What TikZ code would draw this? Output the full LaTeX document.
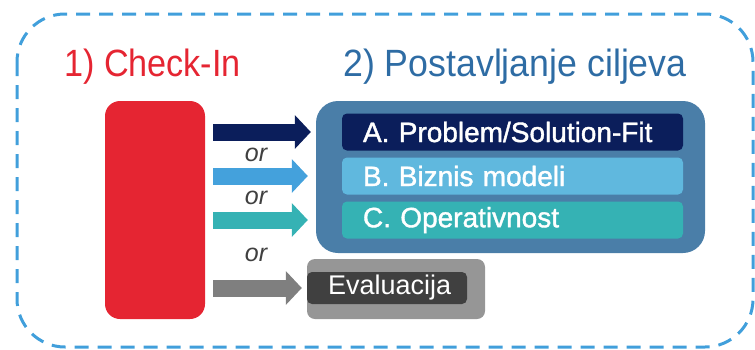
\documentclass[tikz,border=0pt]{standalone}
\usepackage{fontspec}
\setmainfont{Liberation Sans}
\newfontfamily\titlefont[FakeStretch=0.9]{Liberation Sans}
\newfontfamily\goalstitlefont[FakeStretch=0.94]{Liberation Sans}
\newfontfamily\goalfont[FakeBold=1.4]{Liberation Sans}
\usetikzlibrary{arrows.meta,positioning,calc}

\definecolor{frameblue}{HTML}{419FDB}
\definecolor{checkred}{HTML}{E52532}
\definecolor{titleblue}{HTML}{2E6CA4}
\definecolor{goalsblue}{HTML}{4A7EA8}
\definecolor{navyA}{HTML}{0B1E5B}
\definecolor{lightB}{HTML}{60B8DE}
\definecolor{tealC}{HTML}{35B2B4}
\definecolor{arrowB}{HTML}{44A1DC}
\definecolor{arrowgray}{HTML}{7F7F7F}
\definecolor{evalouter}{HTML}{969696}
\definecolor{evalinner}{HTML}{404040}
\definecolor{orgray}{HTML}{404040}

\begin{document}
\begin{tikzpicture}[x=1pt, y=-1pt,
  goal/.style={rectangle, rounded corners=5pt, minimum height=37pt, text width=299pt,
    inner xsep=21pt, inner ysep=0pt, align=left, text=white, font=\goalfont\fontsize{28}{30}\selectfont},
  bigarrow/.style={line width=17pt, -{Triangle[width=33pt,length=16pt]}},
  orlabel/.style={text=orgray, font=\itshape\fontsize{25}{27}\selectfont}]

\useasboundingbox (0,0) rectangle (755,349);

% --- Dashed frame ---
\draw[frameblue, line width=3pt, dash pattern=on 14pt off 9pt, rounded corners=48pt] (17,14) rectangle (753,347);

% --- Titles ---
\node (title_checkin) [anchor=base west, inner sep=0pt, text=checkred, font=\titlefont\fontsize{38}{40}\selectfont] at (64,76) {1) Check-In};
\node (title_goals) [anchor=base west, inner sep=0pt, text=titleblue, font=\goalstitlefont\fontsize{38}{40}\selectfont] at (343,76) {2) Postavljanje ciljeva};

% --- Check-In block ---
\node (checkin) [rectangle, fill=checkred, rounded corners=15pt, minimum width=100pt, minimum height=218pt] at (155,210) {};

% --- Goal setting ---
\node (goals) [rectangle, fill=goalsblue, rounded corners=22pt, minimum width=389pt, minimum height=152pt] at (510.5,177) {};
\node (probfit) [goal, fill=navyA] at (512.5,132) {\mbox{A. Problem/Solution-Fit}};
\node (bizmod) [goal, fill=lightB] at (512.5,176) {\mbox{B. Biznis modeli}};
\node (operat) [goal, fill=tealC] at (512.5,220) {\mbox{C. Operativnost}};

% --- Evaluation ---
\node (evalbox) [rectangle, fill=evalouter, rounded corners=8pt, minimum width=178pt, minimum height=60pt] at (396,289) {};
\node (evaluacija) [rectangle, fill=evalinner, rounded corners=5pt, minimum width=160pt, minimum height=32pt, text width=118pt,
  inner xsep=21pt, inner ysep=0pt, align=left, text=white, font=\fontsize{27}{29}\selectfont] at (387,288) {\mbox{Evaluacija}};

% --- Arrows ---
\draw[bigarrow, navyA] ($(checkin.east |- probfit.west)+(8,0)$) -- ($(goals.west |- probfit.west)+(-5,0)$);
\draw[bigarrow, arrowB] ($(checkin.east |- bizmod.west)+(8,0)$) -- ($(goals.west |- bizmod.west)+(-8,0)$);
\draw[bigarrow, tealC] ($(checkin.east |- operat.west)+(8,0)$) -- ($(goals.west |- operat.west)+(-8,0)$);
\draw[bigarrow, arrowgray] ($(checkin.east |- evaluacija.west)+(8,0)$) -- ($(evalbox.west |- evaluacija.west)+(-5,0)$);

\node (or1) [orlabel] at (256,155) {or};
\node (or2) [orlabel] at (256,198) {or};
\node (or3) [orlabel] at (256,255) {or};

\end{tikzpicture}
\end{document}
